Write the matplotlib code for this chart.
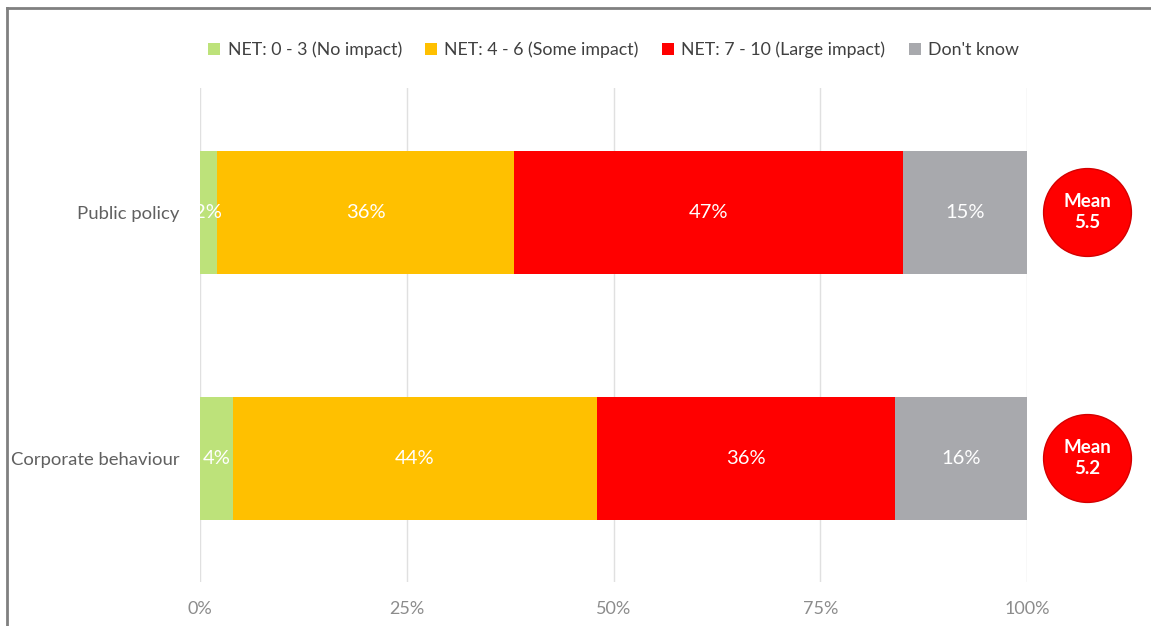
import matplotlib.pyplot as plt
from matplotlib.lines import Line2D

plt.rcParams["font.family"] = ["Lato", "DejaVu Sans"]

categories = ["Public policy", "Corporate behaviour"]
series = [
    "NET: 0 - 3 (No impact)",
    "NET: 4 - 6 (Some impact)",
    "NET: 7 - 10 (Large impact)",
    "Don't know",
]
no_impact = [2, 4]
some_impact = [36, 44]
large_impact = [47, 36]
dont_know = [15, 16]
means = [5.5, 5.2]
xticks = [0, 25, 50, 75, 100]

colours = ["#bde27a", "#ffc000", "#ff0000", "#a8a9ad"]

fig = plt.figure(figsize=(11.51, 6.26), dpi=100)
ax = fig.add_axes([0.1738, 0.0703, 0.7185, 0.7891])

ys = range(len(categories))
left = [0, 0]
for name, vals, c in zip(series, [no_impact, some_impact, large_impact, dont_know], colours):
    ax.barh(ys, vals, left=left, height=0.5, color=c, label=name, zorder=2)
    for y, l, v in zip(ys, left, vals):
        ax.text(l + v / 2, y, f"{v}%", ha="center", va="center",
                color="white", fontsize=14.5, zorder=3)
    left = [l + v for l, v in zip(left, vals)]

# mean bubbles to the right of each bar
for y, m in zip(ys, means):
    ax.scatter(107.3, y, s=4000, color="#ff0000", edgecolor="#d40000",
               linewidth=1, clip_on=False, zorder=3)
    ax.text(107.3, y, f"Mean\n{m}", ha="center", va="center", color="white",
            fontsize=13.5, fontweight="bold", linespacing=1.25, clip_on=False, zorder=4)

ax.set_xlim(0, 100)
ax.set_ylim(1.504, -0.504)
ax.set_xticks(xticks)
ax.set_xticklabels([f"{t}%" for t in xticks])
ax.set_yticks(list(ys))
ax.set_yticklabels(categories)
ax.tick_params(axis="x", length=0, pad=14, labelsize=13, labelcolor="#8c8c8c")
ax.tick_params(axis="y", length=0, pad=15, labelsize=13.3, labelcolor="#606060")
ax.grid(axis="x", color="#e0e0e0", linewidth=1, zorder=0)
for s in ax.spines.values():
    s.set_visible(False)

ax.legend(loc="center", bbox_to_anchor=(0.5, 1.0 + 38 / 494), ncol=4, frameon=False,
          fontsize=12.8, handlelength=0.7, handleheight=0.7, handletextpad=0.4,
          columnspacing=1.3, labelcolor="#404040")

# outer frame: top and left edges only
fig.add_artist(Line2D([7, 7], [0, 618], transform=None, color="#808080", linewidth=2))
fig.add_artist(Line2D([7, 1151], [618, 618], transform=None, color="#808080", linewidth=2))

fig.savefig("out.png", dpi=100)
